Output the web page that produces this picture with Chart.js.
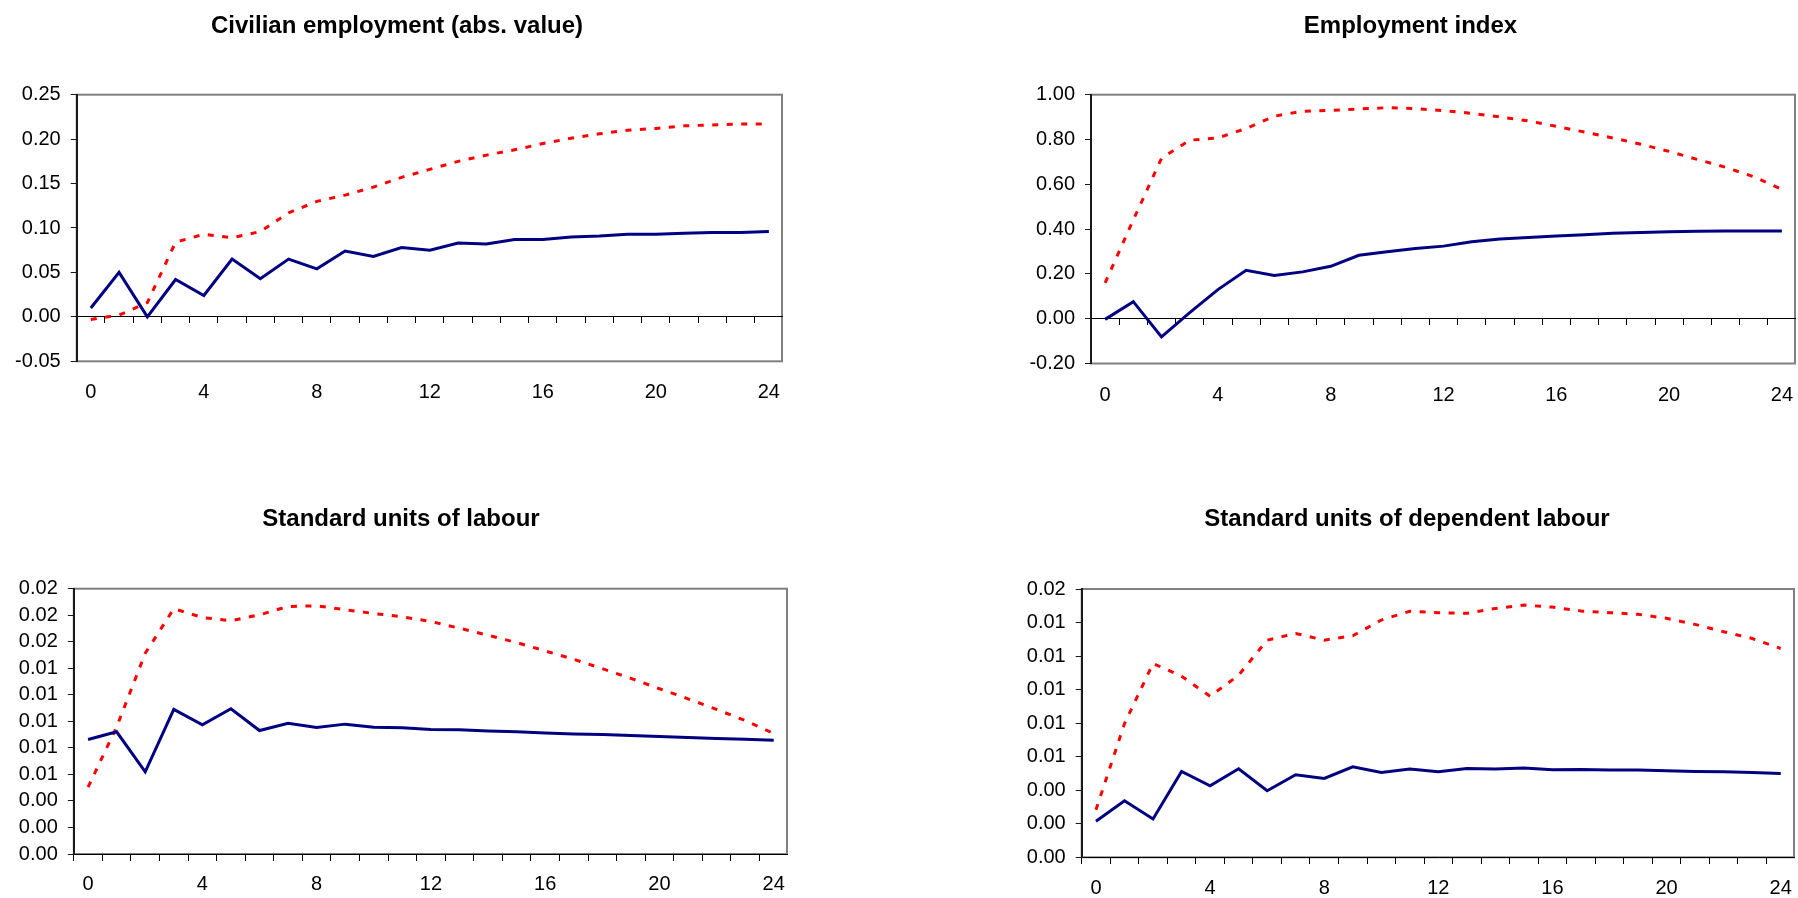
<!DOCTYPE html>
<html>
<head>
<meta charset="utf-8">
<title>Employment responses</title>
<script src="https://cdn.jsdelivr.net/npm/chart.js@4.4.1/dist/chart.umd.min.js"></script>
<style>
  html, body { margin: 0; padding: 0; background: #fff; overflow: hidden; }
  body { width: 1798px; height: 898px; position: relative; }
  .panel { position: absolute; }
</style>
</head>
<body>
<div class="panel" id="p1"><canvas id="c1"></canvas></div>
<div class="panel" id="p2"><canvas id="c2"></canvas></div>
<div class="panel" id="p3"><canvas id="c3"></canvas></div>
<div class="panel" id="p4"><canvas id="c4"></canvas></div>
<script>
// horizon (categories) and the labels shown on the x axis
const periods = [0, 1, 2, 3, 4, 5, 6, 7, 8, 9, 10, 11, 12, 13, 14, 15, 16, 17, 18, 19, 20, 21, 22, 23, 24];
const xTickLabels = [0, 4, 8, 12, 16, 20, 24];

// Civilian employment (abs. value)
const civilianSolid = [0.010, 0.050, 0.000, 0.042, 0.024, 0.065, 0.043, 0.065, 0.054, 0.074, 0.068, 0.078, 0.075,
    0.083, 0.082, 0.087, 0.087, 0.090, 0.091, 0.093, 0.093, 0.094, 0.095, 0.095, 0.096];
const civilianDotted = [-0.003, 0.002, 0.016, 0.084, 0.093, 0.089, 0.096, 0.117, 0.130, 0.137, 0.146, 0.157, 0.166,
    0.175, 0.182, 0.188, 0.195, 0.201, 0.206, 0.210, 0.212, 0.215, 0.216, 0.217, 0.217];
const civilianTicks = [-0.05, 0, 0.05, 0.10, 0.15, 0.20, 0.25];

// Employment index
const indexSolid = [-0.003, 0.076, -0.081, 0.027, 0.130, 0.216, 0.193, 0.209, 0.234, 0.283, 0.299, 0.313, 0.324,
    0.344, 0.356, 0.363, 0.369, 0.375, 0.381, 0.385, 0.388, 0.390, 0.391, 0.391, 0.391];
const indexDotted = [0.160, 0.441, 0.716, 0.797, 0.807, 0.849, 0.904, 0.926, 0.930, 0.936, 0.942, 0.938, 0.929,
    0.917, 0.901, 0.883, 0.859, 0.833, 0.807, 0.779, 0.747, 0.711, 0.676, 0.634, 0.577];
const indexTicks = [-0.20, 0, 0.20, 0.40, 0.60, 0.80, 1.00];

// Standard units of labour
const labourSolid = [0.00863, 0.00921, 0.00620, 0.01090, 0.00974, 0.01095, 0.00931, 0.00986, 0.00953, 0.00979,
    0.00956, 0.00951, 0.00938, 0.00936, 0.00928, 0.00921, 0.00913, 0.00905, 0.00900, 0.00893, 0.00885, 0.00878,
    0.00870, 0.00865, 0.00858];
const labourDotted = [0.00504, 0.00958, 0.01513, 0.01849, 0.01783, 0.01758, 0.01803, 0.01866, 0.01871, 0.01841,
    0.01813, 0.01788, 0.01753, 0.01702, 0.01649, 0.01594, 0.01531, 0.01468, 0.01397, 0.01324, 0.01246, 0.01170,
    0.01090, 0.01006, 0.00908];
const labourTicks = [0, 0.002, 0.004, 0.006, 0.008, 0.010, 0.012, 0.014, 0.016, 0.018, 0.020];

// Standard units of dependent labour
const dependentSolid = [0.00215, 0.00337, 0.00229, 0.00512, 0.00426, 0.00528, 0.00397, 0.00492, 0.00470, 0.00540,
    0.00506, 0.00526, 0.00510, 0.00530, 0.00526, 0.00532, 0.00522, 0.00524, 0.00520, 0.00520, 0.00516, 0.00512,
    0.00510, 0.00506, 0.00500];
const dependentDotted = [0.00283, 0.00797, 0.01156, 0.01080, 0.00960, 0.01086, 0.01295, 0.01335, 0.01295, 0.01321,
    0.01415, 0.01467, 0.01459, 0.01455, 0.01484, 0.01504, 0.01492, 0.01469, 0.01459, 0.01449, 0.01425, 0.01389,
    0.01345, 0.01305, 0.01245];
const dependentTicks = [0, 0.002, 0.004, 0.006, 0.008, 0.010, 0.012, 0.014, 0.016];

const FONT = "'Liberation Sans', Arial, Helvetica, sans-serif";

// grey frame round the plot area, drawn before the axes so they sit on top
const plotFrame = {
    id: 'plotFrame',
    beforeDraw(chart) {
        const a = chart.chartArea;
        const ctx = chart.ctx;
        ctx.save();
        ctx.strokeStyle = '#808080';
        ctx.lineWidth = 2;
        ctx.strokeRect(a.left, a.top, a.right - a.left - 1, a.bottom - a.top);
        ctx.restore();
    }
};

function buildPanel(id, box, title, solid, dotted, yTicks) {
    const wrap = document.getElementById('p' + id);
    wrap.style.left = box.left + 'px';
    wrap.style.top = box.top + 'px';
    wrap.style.width = box.width + 'px';
    wrap.style.height = box.height + 'px';

    new Chart(document.getElementById('c' + id), {
        type: 'line',
        data: {
            labels: periods,
            datasets: [{
                label: 'Series 1',
                data: solid,
                borderColor: '#000080',
                borderWidth: 3,
                pointRadius: 0,
                tension: 0,
                fill: false
            }, {
                label: 'Series 2',
                data: dotted,
                borderColor: '#ff0000',
                borderWidth: 3,
                borderDash: [6, 8.5],
                borderCapStyle: 'butt',
                pointRadius: 0,
                tension: 0,
                fill: false
            }]
        },
        options: {
            responsive: true,
            maintainAspectRatio: false,
            animation: false,
            layout: { padding: 0 },
            plugins: {
                legend: { display: false },
                tooltip: { enabled: false },
                title: {
                    display: true,
                    text: title,
                    color: '#000',
                    font: { family: FONT, size: 24, weight: 'bold' },
                    padding: { top: box.titleTop, bottom: box.titleBottom }
                }
            },
            scales: {
                x: {
                    type: 'category',
                    position: 'bottom',
                    offset: true,
                    border: { display: false },
                    grid: { display: true, drawOnChartArea: false, drawTicks: true,
                        tickLength: box.labelGap, color: 'rgba(0,0,0,0)' },
                    ticks: {
                        autoSkip: false,
                        maxRotation: 0,
                        padding: 2,
                        color: '#000',
                        font: { family: FONT, size: 20 },
                        callback: function(value, index) {
                            return xTickLabels.includes(periods[index]) ? String(periods[index]) : '';
                        }
                    },
                    afterFit: function(scale) { scale.height = box.xHeight; }
                },
                // axis line crossing at zero, with its tick marks
                x2: {
                    type: 'category',
                    labels: periods,
                    position: { y: 0 },
                    offset: true,
                    border: { display: true, color: '#000', width: 1 },
                    grid: { display: true, offset: true, drawOnChartArea: false, drawTicks: true,
                        tickLength: 6, color: '#000' },
                    ticks: { display: false, autoSkip: false }
                },
                y: {
                    type: 'linear',
                    position: 'left',
                    min: yTicks[0],
                    max: yTicks[yTicks.length - 1],
                    border: { display: true, color: '#1a1a1a', width: 2 },
                    grid: { display: true, drawOnChartArea: false, drawTicks: true, tickLength: 6, color: '#1a1a1a' },
                    ticks: {
                        autoSkip: false,
                        padding: 10,
                        color: '#000',
                        font: { family: FONT, size: 20 },
                        callback: function(value) {
                            const v = Math.abs(value) < 1e-9 ? 0 : Number(value);
                            return v.toFixed(2);
                        }
                    },
                    afterBuildTicks: function(scale) {
                        scale.ticks = yTicks.map(function(v) { return { value: v }; });
                    },
                    afterFit: function(scale) { scale.width = box.yWidth; }
                }
            }
        },
        plugins: [plotFrame]
    });
}

buildPanel(1, { left: 11, top: 0, width: 772, height: 420, yWidth: 65.7, xHeight: 58.7,
    titleTop: 11.6, titleBottom: 54.3, labelGap: 16.7 },
    'Civilian employment (abs. value)', civilianSolid, civilianDotted, civilianTicks);

buildPanel(2, { left: 1024.7, top: 0, width: 771, height: 420, yWidth: 66, xHeight: 56.5,
    titleTop: 12, titleBottom: 53.9, labelGap: 18 },
    'Employment index', indexSolid, indexDotted, indexTicks);

buildPanel(3, { left: 13.5, top: 470, width: 774, height: 428, yWidth: 59.8, xHeight: 44,
    titleTop: 35, titleBottom: 54.9, labelGap: 16 },
    'Standard units of labour', labourSolid, labourDotted, labourTicks);

buildPanel(4, { left: 1019, top: 470, width: 776, height: 428, yWidth: 62.7, xHeight: 40.7,
    titleTop: 35, titleBottom: 55.2, labelGap: 17 },
    'Standard units of dependent labour', dependentSolid, dependentDotted, dependentTicks);
</script>
</body>
</html>
